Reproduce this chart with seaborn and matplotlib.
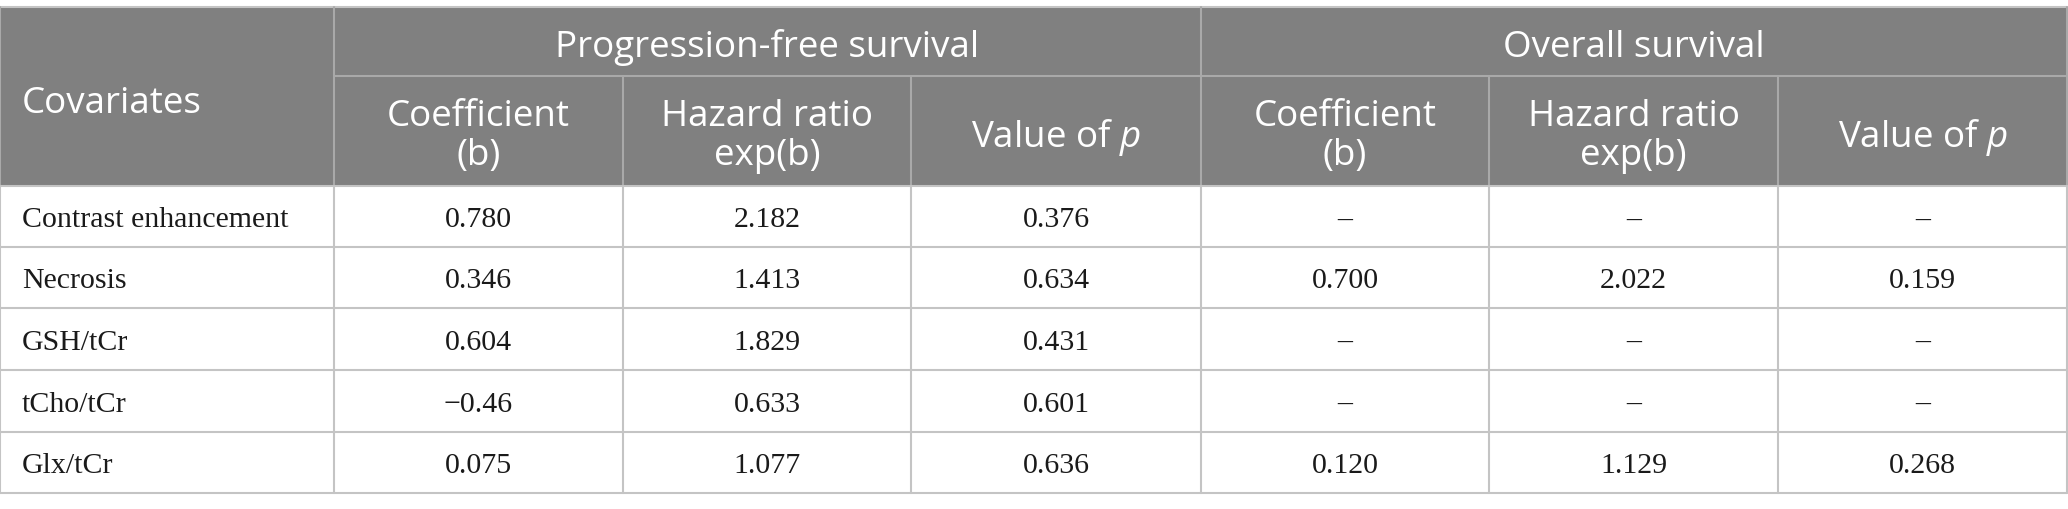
import seaborn as sns
import matplotlib.pyplot as plt
from matplotlib.patches import Rectangle

covariates = ["Contrast enhancement", "Necrosis", "GSH/tCr", "tCho/tCr", "Glx/tCr"]
pfs_coef = ["0.780", "0.346", "0.604", "\u22120.46", "0.075"]
pfs_hr = ["2.182", "1.413", "1.829", "0.633", "1.077"]
pfs_p = ["0.376", "0.634", "0.431", "0.601", "0.636"]
os_coef = ["\u2013", "0.700", "\u2013", "\u2013", "0.120"]
os_hr = ["\u2013", "2.022", "\u2013", "\u2013", "1.129"]
os_p = ["\u2013", "0.159", "\u2013", "\u2013", "0.268"]

groups = ["Progression-free survival", "Overall survival"]
sub_headers = [["Coefficient", "(b)"], ["Hazard ratio", "exp(b)"], ["Value of $p$"]] * 2

sns.set_theme(style="white")
plt.rcParams["mathtext.fontset"] = "custom"
plt.rcParams["mathtext.rm"] = "Open Sans"
plt.rcParams["mathtext.it"] = "Open Sans:italic"

# table geometry in pixels
col_edges = [0, 334, 623, 911, 1201, 1489, 1778, 2067]
top, mid, head_bot = 8, 77, 187
row_edges = [187, 248, 309, 371, 433, 494]

header_bg = "#808080"
header_line = "#a9a9a9"
body_line = "#c4c4c4"
head_font = dict(family=["Open Sans", "DejaVu Sans"], size=26.5, color="white")
body_font = dict(family=["Liberation Serif", "DejaVu Serif"], size=21.5, color="#1a1a1a")

fig = plt.figure(figsize=(20.68, 5.10), dpi=100)
ax = fig.add_axes([0, 0, 1, 1])
ax.set_xlim(0, 2068)
ax.set_ylim(510, 0)
ax.axis("off")

ax.add_patch(Rectangle((col_edges[0], top), col_edges[-1] - col_edges[0], head_bot - top,
                       facecolor=header_bg, edgecolor="none"))

# header lines
ax.plot([col_edges[0], col_edges[-1]], [top, top], color=body_line, lw=1.5)
ax.plot([col_edges[1], col_edges[-1]], [mid, mid], color=header_line, lw=1.5)
for x in (col_edges[0], col_edges[1], col_edges[4], col_edges[7]):
    ax.plot([x, x], [top, head_bot], color=header_line, lw=1.5)
for x in (col_edges[2], col_edges[3], col_edges[5], col_edges[6]):
    ax.plot([x, x], [mid, head_bot], color=header_line, lw=1.5)

# body lines
for y in row_edges:
    ax.plot([col_edges[0], col_edges[-1]], [y, y], color=body_line, lw=1.5)
for x in col_edges:
    ax.plot([x, x], [head_bot, row_edges[-1]], color=body_line, lw=1.5)

# header text
ax.text(22, 113, "Covariates", ha="left", va="baseline", **head_font)
for g, (a, b) in zip(groups, [(1, 4), (4, 7)]):
    ax.text((col_edges[a] + col_edges[b]) / 2, 57, g, ha="center", va="baseline", **head_font)
for i, lines in enumerate(sub_headers):
    cx = (col_edges[i + 1] + col_edges[i + 2]) / 2
    if len(lines) == 2:
        ax.text(cx, 126, lines[0], ha="center", va="baseline", **head_font)
        ax.text(cx, 165, lines[1], ha="center", va="baseline", **head_font)
    else:
        ax.text(cx, 147, lines[0], ha="center", va="baseline", **head_font)

# body text
columns = [pfs_coef, pfs_hr, pfs_p, os_coef, os_hr, os_p]
for r, name in enumerate(covariates):
    base = (row_edges[r] + row_edges[r + 1]) / 2 + 10
    ax.text(22, base, name, ha="left", va="baseline", **body_font)
    for c, vals in enumerate(columns):
        cx = (col_edges[c + 1] + col_edges[c + 2]) / 2
        ax.text(cx, base, vals[r], ha="center", va="baseline", **body_font)

fig.savefig("out.png", dpi=100)
